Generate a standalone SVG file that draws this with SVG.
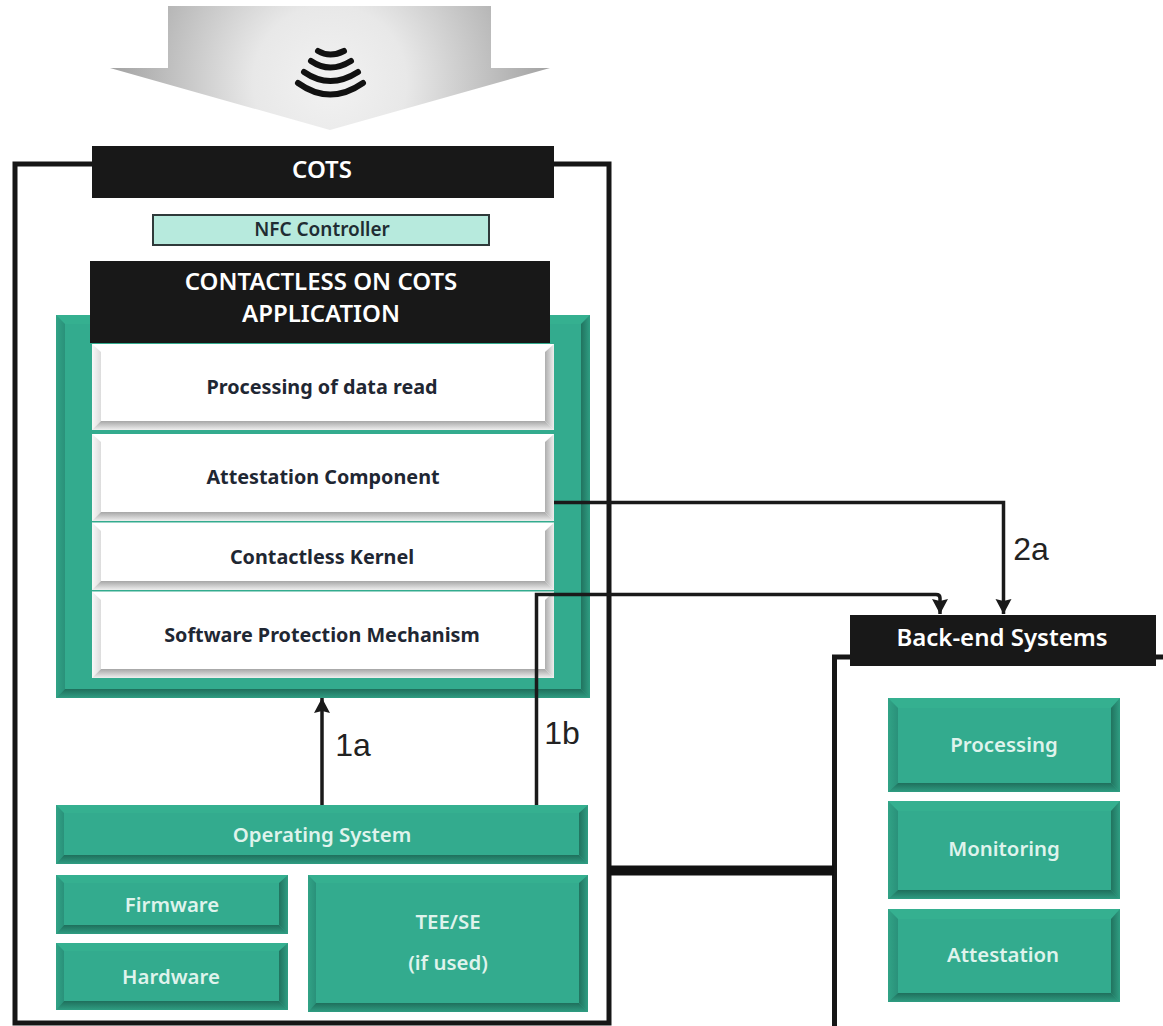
<svg xmlns="http://www.w3.org/2000/svg" width="1163" height="1026" viewBox="0 0 1163 1026">
<style>
text{font-family:"Noto Sans","Open Sans",sans-serif;font-weight:600;text-anchor:middle}
.g{fill:#33ab8e}.gt{fill:#35b090}.gl{fill:url(#gl)}.gr{fill:url(#gr)}.gb{fill:url(#gb)}
.w{fill:#fff}.wl{fill:url(#wl)}.wr{fill:url(#wr)}.wb{fill:url(#wb)}
.lt{fill:#dff3ec;font-size:20.400px}.dk{fill:#1f2733;font-size:19.800px;font-weight:700}.hd{fill:#fff;font-size:24px}
.bar{fill:#181818}
.ln{fill:none;stroke:#1a1a1a;stroke-width:3.500}
.lab{fill:#222;font-size:32px;font-family:"Liberation Sans",sans-serif;font-weight:400}
</style>
<defs>
<radialGradient id="ag" gradientUnits="userSpaceOnUse" cx="330" cy="82" r="220">
<stop offset="0" stop-color="#f2f2f2"/><stop offset="0.35" stop-color="#e8e8e8"/><stop offset="1" stop-color="#a2a2a2"/>
</radialGradient>
<linearGradient id="gl"><stop offset="0" stop-color="#31a386"/><stop offset="1" stop-color="#2a917a"/></linearGradient>
<linearGradient id="gr"><stop offset="0" stop-color="#21735f"/><stop offset="1" stop-color="#2f9d82"/></linearGradient>
<linearGradient id="gb" x2="0" y2="1"><stop offset="0" stop-color="#1f6f5c"/><stop offset="1" stop-color="#2f9d82"/></linearGradient>
<linearGradient id="wl"><stop offset="0" stop-color="#f8f8f8"/><stop offset="1" stop-color="#dcdcdc"/></linearGradient>
<linearGradient id="wr"><stop offset="0" stop-color="#aeaeae"/><stop offset="1" stop-color="#eeeeee"/></linearGradient>
<linearGradient id="wb" x2="0" y2="1"><stop offset="0" stop-color="#a6a6a6"/><stop offset="1" stop-color="#efefef"/></linearGradient>
<marker id="ah" markerWidth="17" markerHeight="17" refX="15" refY="8" orient="auto" markerUnits="userSpaceOnUse"><path d="M0 0L15 8L0 16L2 8Z" fill="#1a1a1a"/></marker>
</defs>
<rect width="1163" height="1026" fill="#fff"/>

<g id="nfc-arrow">
<polygon points="168,6 491,6 491,68 550,68 330,130 110,68 168,68" fill="url(#ag)"/>
<g fill="none" stroke="#111" stroke-width="6" stroke-linecap="round">
<path d="M318 51Q330 58 344 51"/>
<path d="M311 61Q330 74 351 61"/>
<path d="M304 72Q330 90 358 72"/>
<path d="M298 83Q330 106 363 83"/>
</g>
</g>

<g id="cots">
<rect x="15" y="164" width="594" height="859" fill="#fff" stroke="#161616" stroke-width="5"/>
<rect class="bar" x="92" y="146" width="462" height="52"/>
<text class="hd" x="322" y="178">COTS</text>
</g>

<g id="nfc-controller">
<rect x="153" y="215" width="336" height="30" fill="#b7eadd" stroke="#2f3a3a" stroke-width="2"/>
<text x="322" y="236" style="fill:#1f2d33;font-size:19px">NFC Controller</text>
</g>

<g id="application">
<rect class="g" x="56" y="315" width="534" height="383"/>
<polygon class="gt" points="56,315 590,315 581,324 65,324"/>
<polygon class="gl" points="56,315 65,324 65,689 56,698"/>
<polygon class="gr" points="590,315 581,324 581,689 590,698"/>
<polygon class="gb" points="56,698 65,689 581,689 590,698"/>
<rect class="bar" x="90" y="261" width="460" height="82"/>
<text class="hd" x="321" y="290">CONTACTLESS ON COTS</text>
<text class="hd" x="321" y="322">APPLICATION</text>
</g>

<g id="processing-of-data">
<rect class="w" x="92" y="344" width="462" height="86"/>
<polygon class="wl" points="92,344 101,352 101,421 92,430"/>
<polygon class="wr" points="554,344 545,352 545,421 554,430"/>
<polygon class="wb" points="92,430 101,421 545,421 554,430"/>
<text class="dk" x="322" y="394">Processing of data read</text>
</g>
<g id="attestation-component">
<rect class="w" x="92" y="434" width="462" height="87"/>
<polygon class="wl" points="92,434 101,442 101,512 92,521"/>
<polygon class="wr" points="554,434 545,442 545,512 554,521"/>
<polygon class="wb" points="92,521 101,512 545,512 554,521"/>
<text class="dk" x="323" y="484">Attestation Component</text>
</g>
<g id="contactless-kernel">
<rect class="w" x="92" y="522.500" width="462" height="67.500"/>
<polygon class="wl" points="92,522.500 101,531 101,581 92,590"/>
<polygon class="wr" points="554,522.500 545,531 545,581 554,590"/>
<polygon class="wb" points="92,590 101,581 545,581 554,590"/>
<text class="dk" x="322" y="564">Contactless Kernel</text>
</g>
<g id="software-protection">
<rect class="w" x="92" y="591.500" width="462" height="86.500"/>
<polygon class="wl" points="92,591.500 101,600 101,669 92,678"/>
<polygon class="wr" points="554,591.500 545,600 545,669 554,678"/>
<polygon class="wb" points="92,678 101,669 545,669 554,678"/>
<text class="dk" x="322" y="642">Software Protection Mechanism</text>
</g>

<g id="operating-system">
<rect class="g" x="56" y="805" width="532" height="59"/>
<polygon class="gt" points="56,805 588,805 579,813 64,813"/>
<polygon class="gl" points="56,805 64,813 64,855 56,864"/>
<polygon class="gr" points="588,805 579,813 579,855 588,864"/>
<polygon class="gb" points="56,864 64,855 579,855 588,864"/>
<text class="lt" x="322" y="842">Operating System</text>
</g>
<g id="firmware">
<rect class="g" x="56" y="875" width="232" height="59"/>
<polygon class="gt" points="56,875 288,875 279,883 64,883"/>
<polygon class="gl" points="56,875 64,883 64,925 56,934"/>
<polygon class="gr" points="288,875 279,883 279,925 288,934"/>
<polygon class="gb" points="56,934 64,925 279,925 288,934"/>
<text class="lt" x="172" y="912">Firmware</text>
</g>
<g id="hardware">
<rect class="g" x="56" y="943" width="232" height="67"/>
<polygon class="gt" points="56,943 288,943 279,951 64,951"/>
<polygon class="gl" points="56,943 64,951 64,1001 56,1010"/>
<polygon class="gr" points="288,943 279,951 279,1001 288,1010"/>
<polygon class="gb" points="56,1010 64,1001 279,1001 288,1010"/>
<text class="lt" x="171" y="984">Hardware</text>
</g>
<g id="tee-se">
<rect class="g" x="308" y="875" width="280" height="137"/>
<polygon class="gt" points="308,875 588,875 579,883 316,883"/>
<polygon class="gl" points="308,875 316,883 316,1003 308,1012"/>
<polygon class="gr" points="588,875 579,883 579,1003 588,1012"/>
<polygon class="gb" points="308,1012 316,1003 579,1003 588,1012"/>
<text class="lt" x="448" y="929">TEE/SE</text>
<text class="lt" x="448" y="970">(if used)</text>
</g>

<g id="back-end-systems">
<path d="M834.500 1026V657H1163" fill="none" stroke="#161616" stroke-width="5"/>
<rect class="bar" x="850" y="615" width="306" height="51"/>
<text x="1002" y="646" style="fill:#fff;font-size:24px">Back-end Systems</text>
</g>
<g id="processing">
<rect class="g" x="888" y="698" width="232" height="94"/>
<polygon class="gt" points="888,698 1120,698 1111,708 898,708"/>
<polygon class="gl" points="888,698 898,708 898,783 888,792"/>
<polygon class="gr" points="1120,698 1111,708 1111,783 1120,792"/>
<polygon class="gb" points="888,792 898,783 1111,783 1120,792"/>
<text class="lt" x="1004" y="752">Processing</text>
</g>
<g id="monitoring">
<rect class="g" x="888" y="801" width="232" height="98"/>
<polygon class="gt" points="888,801 1120,801 1111,811 898,811"/>
<polygon class="gl" points="888,801 898,811 898,890 888,899"/>
<polygon class="gr" points="1120,801 1111,811 1111,890 1120,899"/>
<polygon class="gb" points="888,899 898,890 1111,890 1120,899"/>
<text class="lt" x="1004" y="856">Monitoring</text>
</g>
<g id="attestation">
<rect class="g" x="888" y="909" width="232" height="93"/>
<polygon class="gt" points="888,909 1120,909 1111,919 898,919"/>
<polygon class="gl" points="888,909 898,919 898,993 888,1002"/>
<polygon class="gr" points="1120,909 1111,919 1111,993 1120,1002"/>
<polygon class="gb" points="888,1002 898,993 1111,993 1120,1002"/>
<text class="lt" x="1003" y="962">Attestation</text>
</g>

<g id="connectors">
<path d="M610 870.500H834" fill="none" stroke="#111" stroke-width="10"/>
<path class="ln" d="M322 805V698" marker-end="url(#ah)"/>
<path class="ln" d="M536.500 805V594.500H936Q940 594.500 940 598V614" marker-end="url(#ah)"/>
<path class="ln" d="M554 502.500H1003.500V614" marker-end="url(#ah)"/>
<text class="lab" x="353" y="756">1a</text>
<text class="lab" x="562" y="744">1b</text>
<text class="lab" x="1031" y="560">2a</text>
</g>
</svg>
